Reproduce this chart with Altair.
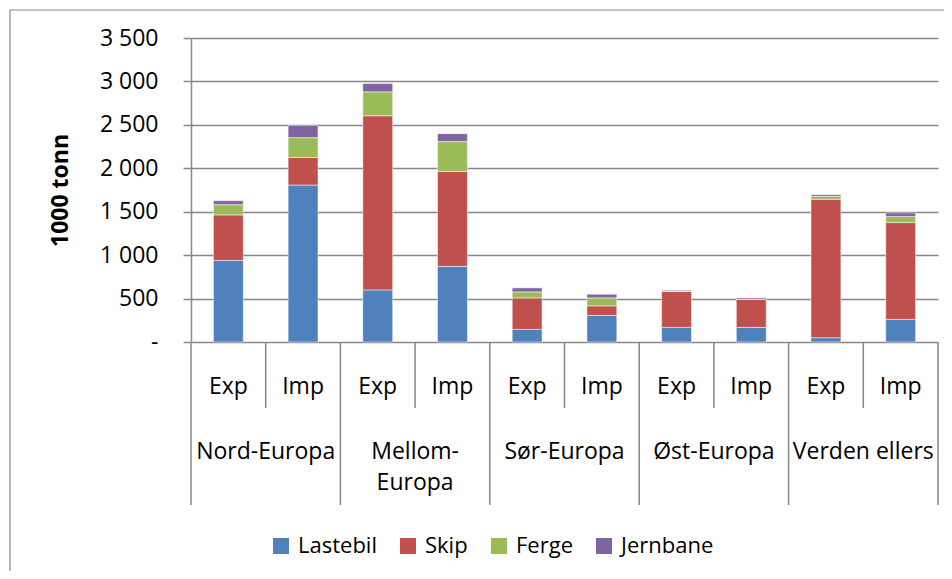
import altair as alt
import pandas as pd

# ---- data ----
regions = ["Nord-Europa", "Mellom-Europa", "Sør-Europa", "Øst-Europa", "Verden ellers"]
group_line1 = ["Nord-Europa", "Mellom-", "Sør-Europa", "Øst-Europa", "Verden ellers"]
group_line2 = ["", "Europa", "", "", ""]
flows = ["Exp", "Imp"]
modes = ["Lastebil", "Skip", "Ferge", "Jernbane"]
colors = ["#4F81BD", "#C0504D", "#9BBB59", "#8064A2"]

# order: Nord Exp, Nord Imp, Mellom Exp, Mellom Imp, Sør Exp, Sør Imp, Øst Exp, Øst Imp, Verden Exp, Verden Imp
lastebil = [940, 1807, 600, 871, 145, 306, 168, 168, 50, 260]
skip     = [523, 317, 2005, 1092, 363, 110, 413, 321, 1593, 1115]
ferge    = [118, 229, 275, 344, 69, 92, 5, 3, 34, 69]
jernbane = [46, 141, 96, 92, 46, 42, 10, 16, 19, 42]

y_ticks = [0, 500, 1000, 1500, 2000, 2500, 3000, 3500]

# ---- tables ----
series = [lastebil, skip, ferge, jernbane]
n = len(regions) * len(flows)
rows = []
for i in range(n):
    for k, m in enumerate(modes):
        rows.append({"slot": i, "x0": i + 0.3, "x1": i + 0.7, "mode": m, "k": k,
                     "value": series[k][i]})
df = pd.DataFrame(rows)

flow_df = pd.DataFrame({"xc": [i + 0.5 for i in range(n)],
                        "flow": [flows[i % 2] for i in range(n)]})
grp_df = pd.DataFrame({"xc": [2 * g + 1 for g in range(len(regions))],
                       "l1": group_line1, "l2": group_line2})
sub_sep = pd.DataFrame({"xs": [2 * g + 1 for g in range(len(regions))]})
grp_sep = pd.DataFrame({"xs": [2 * g for g in range(len(regions) + 1)]})

W, H = 747, 304
FONT = "Open Sans"
FS = 23
LFS = 22
GRAY = "#878787"

xscale = alt.Scale(domain=[0, n], nice=False, zero=False)

bars = alt.Chart(df).transform_stack(
    stack="value", groupby=["slot"], as_=["y0", "y1"],
    sort=[alt.SortField("k", order="ascending")]
).mark_rect(stroke="#ffffff", strokeWidth=0.5).encode(
    x=alt.X("x0:Q", scale=xscale, axis=None),
    x2="x1:Q",
    y=alt.Y("y0:Q", scale=alt.Scale(domain=[0, 3500], nice=False),
            axis=alt.Axis(values=y_ticks, grid=True, gridColor=GRAY, gridWidth=1.5,
                          domainColor=GRAY, domainWidth=1.5, tickColor=GRAY,
                          tickWidth=1.5, tickSize=8, labelFont=FONT, labelFontSize=FS,
                          labelColor="black", labelPadding=25,
                          labelExpr="datum.value == 0 ? '-' : replace(format(datum.value, ','), ',', ' ')",
                          title="1000 tonn", titleFont=FONT, titleFontSize=FS,
                          titleFontWeight="bold", titleColor="black", titleAngle=270,
                          titleX=-131, titleY=H / 2, titleAlign="center",
                          titleBaseline="middle")),
    y2="y1:Q",
    color=alt.Color("mode:N", scale=alt.Scale(domain=modes, range=colors),
                    legend=alt.Legend(title=None, orient="none", legendX=79, legendY=497,
                                      direction="horizontal", symbolType="square",
                                      symbolSize=256, symbolStrokeWidth=0,
                                      labelFont=FONT, labelFontSize=LFS, labelColor="black",
                                      labelOffset=6, columnPadding=20, padding=0)),
)

sub_rules = alt.Chart(sub_sep).mark_rule(color=GRAY, strokeWidth=1.5).encode(
    x=alt.X("xs:Q", scale=xscale, axis=None),
    y=alt.value(H), y2=alt.value(H + 66))
grp_rules = alt.Chart(grp_sep).mark_rule(color=GRAY, strokeWidth=1.5).encode(
    x=alt.X("xs:Q", scale=xscale, axis=None),
    y=alt.value(H), y2=alt.value(H + 163))

flow_txt = alt.Chart(flow_df).mark_text(font=FONT, fontSize=FS, color="black",
                                        baseline="middle").encode(
    x=alt.X("xc:Q", scale=xscale, axis=None), y=alt.value(H + 45), text="flow:N")
grp_txt1 = alt.Chart(grp_df).mark_text(font=FONT, fontSize=FS, color="black",
                                       baseline="middle").encode(
    x=alt.X("xc:Q", scale=xscale, axis=None), y=alt.value(H + 110), text="l1:N")
grp_txt2 = alt.Chart(grp_df).mark_text(font=FONT, fontSize=FS, color="black",
                                       baseline="middle").encode(
    x=alt.X("xc:Q", scale=xscale, axis=None), y=alt.value(H + 141), text="l2:N")

frame = alt.Chart(pd.DataFrame({"a": [0]})).mark_rect(
    filled=False, stroke=GRAY, strokeWidth=1.2).encode(
    x=alt.value(-181), x2=alt.value(W + 60), y=alt.value(-28), y2=alt.value(H + 400))

chart = alt.layer(frame, bars, sub_rules, grp_rules, flow_txt, grp_txt1, grp_txt2).properties(
    width=W, height=H,
    autosize=alt.AutoSizeParams(type="none"),
    padding={"left": 183, "top": 30, "right": 6, "bottom": 229},
).configure_view(stroke=None)

chart.save("out.html", embed_options={"renderer": "svg", "actions": False})
